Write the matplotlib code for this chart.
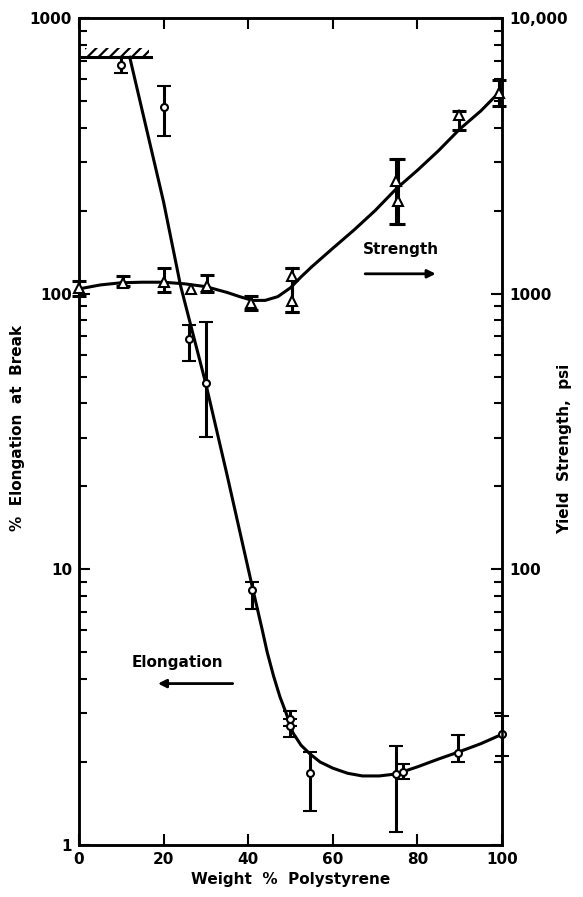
import matplotlib
matplotlib.use("Agg")
import matplotlib.pyplot as plt
from matplotlib.patches import Rectangle
from matplotlib.ticker import FixedLocator, LogLocator, NullFormatter
import numpy as np

# elongation at break (left axis, %), circles
elong_x = [10, 20, 26, 30, 41, 50, 50, 54.5, 75, 76.7, 89.6, 100]
elong_y = [675, 475, 68.6, 47.5, 8.4, 2.87, 2.71, 1.83, 1.81, 1.84, 2.16, 2.53]
elong_lo = [630, 372, 57, 30.2, 7.2, 2.71, 2.47, 1.33, 1.11, 1.74, 2.0, 2.11]
elong_hi = [720, 566, 77, 79, 9.0, 3.07, 2.87, 2.18, 2.29, 1.97, 2.51, 2.94]

# yield strength (right axis, psi), triangles
str_x = [0, 10.5, 20, 26.5, 30.3, 40.7, 50.4, 50.4, 75, 75.5, 89.9, 99.3]
str_y = [1050, 1096, 1106, 1036, 1070, 927, 1163, 944, 2553, 2162, 4437, 5336]
str_lo = [984, 1070, 1015, None, 1010, 869, 855, 855, 1782, 1782, 3920, 4786]
str_hi = [1114, 1163, 1238, None, 1168, 982, 1238, 1238, 3070, 3070, 4610, 5955]

# hand drawn curves
elong_curve_x = [12, 20, 24, 30, 35, 41, 43.3, 44.5, 46, 47.5, 49, 50.6, 52.5, 54.6, 57, 60,
                 63.5, 67, 71, 75, 80, 85, 89.6, 95, 100]
elong_curve_y = [720, 215, 107, 47, 22, 8.6, 6.05, 5.0, 4.1, 3.45, 3.0, 2.55, 2.3, 2.14, 2.0, 1.9,
                 1.82, 1.78, 1.78, 1.81, 1.92, 2.05, 2.17, 2.33, 2.52]
str_curve_x = [0, 5, 10, 15, 20, 25, 30, 35, 38, 41, 44, 47, 50, 52.5, 55, 60, 65, 70, 75, 80,
               85, 90, 95, 100]
str_curve_y = [1040, 1075, 1095, 1100, 1100, 1085, 1060, 1010, 975, 945, 945, 975, 1050, 1150,
               1250, 1460, 1700, 2000, 2400, 2800, 3300, 3950, 4600, 5500]

font = dict(family="DejaVu Sans", fontweight="bold", fontsize=11)
plt.rcParams["hatch.linewidth"] = 1.6

fig = plt.figure(figsize=(5.83, 8.97), dpi=100)
ax = fig.add_axes([0.1355, 0.058, 0.7255, 0.922])
ax2 = ax.twinx()

lw = 2.2
ax.set_yscale("log")
ax.set_ylim(1, 1000)
ax.set_xlim(0, 100)
ax2.set_yscale("log")
ax2.set_ylim(10, 10000)

# curves
ax.plot(elong_curve_x, elong_curve_y, color="black", lw=lw, zorder=3)
ax2.plot(str_curve_x, str_curve_y, color="black", lw=lw, zorder=3)

# elongation points with error bars
elong_err = [np.array(elong_y) - np.array(elong_lo), np.array(elong_hi) - np.array(elong_y)]
eb = ax.errorbar(elong_x, elong_y, yerr=elong_err, fmt="o", ms=5, mfc="white", mec="black",
                 mew=1.5, ecolor="black", elinewidth=lw, capsize=5, capthick=lw, zorder=4)
for art in eb.lines[0:1] + eb.lines[1] + eb.lines[2]:
    art.set_clip_on(False)

# strength points
for x, y, lo, hi in zip(str_x, str_y, str_lo, str_hi):
    if lo is not None:
        e = ax2.errorbar([x], [y], yerr=[[y - lo], [hi - y]], fmt="none", ecolor="black",
                         elinewidth=lw, capsize=5, capthick=lw, zorder=4)
        for art in e.lines[1] + e.lines[2]:
            art.set_clip_on(False)
ax2.plot(str_x, str_y, "^", ms=7, mfc="white", mec="black", mew=1.5, ls="none", zorder=5,
         clip_on=False)

# hatched upper limit line
ax.plot([0.8, 17], [720, 720], color="black", lw=lw, zorder=3)
ax.add_patch(Rectangle((1.5, 720), 15, 60, facecolor="none", edgecolor="black", lw=0,
                       hatch="///", zorder=2))

# annotations
ax.text(12.5, 4.6, "Elongation", ha="left", va="center", **font)
ax.annotate("", xy=(18, 3.85), xytext=(37, 3.85),
            arrowprops=dict(arrowstyle="-|>", color="black", lw=2, mutation_scale=12))
ax2.text(67, 1440, "Strength", ha="left", va="center", **font)
ax2.annotate("", xy=(85, 1180), xytext=(67, 1180),
             arrowprops=dict(arrowstyle="-|>", color="black", lw=2, mutation_scale=12))

# ticks
ax.set_xticks([0, 20, 40, 60, 80, 100])
ax.set_xticklabels(["0", "20", "40", "60", "80", "100"], **font)
ax.yaxis.set_major_locator(FixedLocator([1, 10, 100, 1000]))
ax.set_yticklabels(["1", "10", "100", "1000"], **font)
ax.yaxis.set_minor_locator(LogLocator(base=10, subs=range(2, 10)))
ax.yaxis.set_minor_formatter(NullFormatter())
ax.tick_params(axis="both", which="major", direction="in", length=8, width=1.5,
               top=True, pad=5)
ax.tick_params(axis="y", which="minor", direction="in", length=6, width=1.5)

ax2.yaxis.set_major_locator(FixedLocator([10, 100, 1000, 10000]))
ax2.set_yticklabels(["", "100", "1000", "10,000"], **font)
ax2.yaxis.set_minor_locator(LogLocator(base=10, subs=range(2, 10)))
ax2.yaxis.set_minor_formatter(NullFormatter())
ax2.tick_params(axis="y", which="major", direction="in", length=8, width=1.5, pad=5)
ax2.tick_params(axis="y", which="minor", direction="in", length=6, width=1.5)

for a in (ax, ax2):
    for s in a.spines.values():
        s.set_linewidth(1.8)

ax.set_xlabel("Weight  %  Polystyrene", labelpad=4, **font)
fig.text(18 / 583, 1 - 428 / 897, "%  Elongation  at  Break", rotation=90,
         ha="center", va="center", **font)
fig.text(565 / 583, 1 - 449 / 897, "Yield  Strength,  psi", rotation=90,
         ha="center", va="center", **font)

fig.savefig("out.png", dpi=100)
